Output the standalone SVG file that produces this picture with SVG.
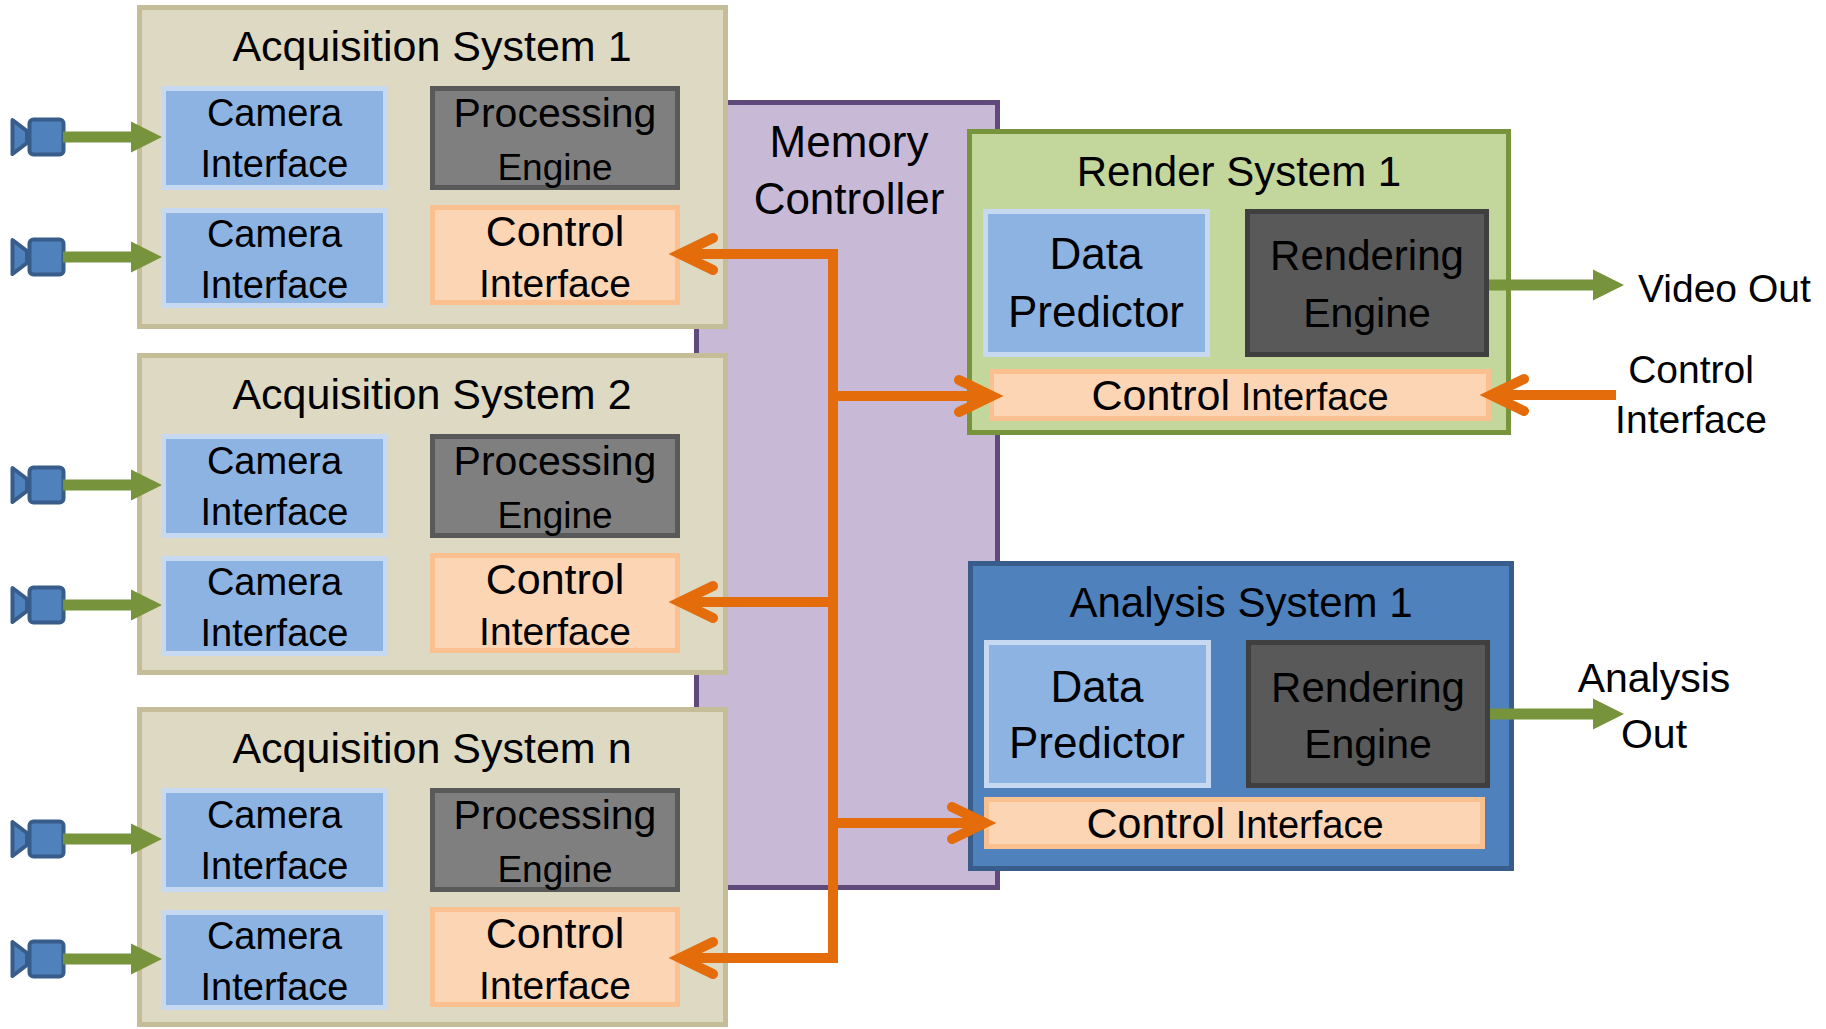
<svg xmlns="http://www.w3.org/2000/svg" xmlns:xlink="http://www.w3.org/1999/xlink" width="1826" height="1029" viewBox="0 0 1826 1029">
<style>
text{font-family:"Liberation Sans",Arial,sans-serif;fill:#000;text-anchor:middle}
.acq{fill:#DDD9C3;stroke:#C4BD97;stroke-width:5}
.cam{fill:#8DB3E2;stroke:#C6D9F1;stroke-width:5}
.proc{fill:#7F7F7F;stroke:#595959;stroke-width:5}
.ctl{fill:#FCD5B5;stroke:#FAC090;stroke-width:5}
.eng{fill:#595959;stroke:#3F3F3F;stroke-width:5}
.mem{fill:#C8B9D7;stroke:#604A7B;stroke-width:5}
.ren{fill:#C3D69B;stroke:#77933C;stroke-width:5}
.ana{fill:#4F81BD;stroke:#385D8A;stroke-width:5}
.or{fill:none;stroke:#E46C0A;stroke-width:10}
.oh{fill:none;stroke:#E46C0A;stroke-width:10;stroke-linecap:round;stroke-linejoin:miter}
.gr{fill:#77933C}
.t43{font-size:43px}.t42{font-size:42px}.t41{font-size:41px}.t39{font-size:39px}.t38{font-size:38px}.t37{font-size:37px}.t44{font-size:44px}
</style>
<defs>
<g id="camicon">
<polygon points="12.5,-17 27,-6 27,6 12.5,17" fill="#4F81BD" stroke="#385D8A" stroke-width="4" stroke-linejoin="round"/>
<rect x="29.5" y="-17.5" width="34" height="35" rx="4" fill="#4F81BD" stroke="#385D8A" stroke-width="4"/>
</g>
<polygon id="garrow" points="63,-5.5 131,-5.5 131,-15.5 162,0 131,15.5 131,5.5 63,5.5"/>
</defs>
<rect width="1826" height="1029" fill="#FFFFFF"/>

<g id="memory-controller">
<rect class="mem" x="696.5" y="102.5" width="301" height="785"/>
<text class="t44" x="849" y="157">Memory</text>
<text class="t44" x="849" y="214">Controller</text>
</g>

<g id="acquisition-system-1" transform="translate(0,5)">
<rect class="acq" x="139.5" y="2.5" width="586" height="319"/>
<text class="t43" x="432" y="56">Acquisition System 1</text>
<rect class="cam" x="163.5" y="83.5" width="222" height="99"/>
<text class="t38" x="274.5" y="121">Camera</text><text class="t38" x="274.5" y="172">Interface</text>
<rect class="proc" x="432.5" y="83.5" width="245" height="99"/>
<text class="t41" x="555" y="122">Processing</text><text class="t37" x="555" y="175">Engine</text>
<rect class="cam" x="163.5" y="205.5" width="222" height="95"/>
<text class="t38" x="274.5" y="242">Camera</text><text class="t38" x="274.5" y="293">Interface</text>
<rect class="ctl" x="432.5" y="202.5" width="245" height="95"/>
<text class="t43" x="555" y="241">Control</text><text class="t39" x="555" y="292">Interface</text>
<use xlink:href="#camicon" href="#camicon" y="132"/>
<use xlink:href="#camicon" href="#camicon" y="252"/>
</g>

<g id="acquisition-system-2" transform="translate(0,353)">
<rect class="acq" x="139.5" y="2.5" width="586" height="317"/>
<text class="t43" x="432" y="56">Acquisition System 2</text>
<rect class="cam" x="163.5" y="83.5" width="222" height="99"/>
<text class="t38" x="274.5" y="121">Camera</text><text class="t38" x="274.5" y="172">Interface</text>
<rect class="proc" x="432.5" y="83.5" width="245" height="99"/>
<text class="t41" x="555" y="122">Processing</text><text class="t37" x="555" y="175">Engine</text>
<rect class="cam" x="163.5" y="205.5" width="222" height="95"/>
<text class="t38" x="274.5" y="242">Camera</text><text class="t38" x="274.5" y="293">Interface</text>
<rect class="ctl" x="432.5" y="202.5" width="245" height="95"/>
<text class="t43" x="555" y="241">Control</text><text class="t39" x="555" y="292">Interface</text>
<use xlink:href="#camicon" href="#camicon" y="132"/>
<use xlink:href="#camicon" href="#camicon" y="252"/>
</g>

<g id="acquisition-system-n" transform="translate(0,707)">
<rect class="acq" x="139.5" y="2.5" width="586" height="315"/>
<text class="t43" x="432" y="56">Acquisition System n</text>
<rect class="cam" x="163.5" y="83.5" width="222" height="99"/>
<text class="t38" x="274.5" y="121">Camera</text><text class="t38" x="274.5" y="172">Interface</text>
<rect class="proc" x="432.5" y="83.5" width="245" height="99"/>
<text class="t41" x="555" y="122">Processing</text><text class="t37" x="555" y="175">Engine</text>
<rect class="cam" x="163.5" y="205.5" width="222" height="95"/>
<text class="t38" x="274.5" y="242">Camera</text><text class="t38" x="274.5" y="293">Interface</text>
<rect class="ctl" x="432.5" y="202.5" width="245" height="95"/>
<text class="t43" x="555" y="241">Control</text><text class="t39" x="555" y="292">Interface</text>
<use xlink:href="#camicon" href="#camicon" y="132"/>
<use xlink:href="#camicon" href="#camicon" y="252"/>
</g>

<g id="render-system-1">
<rect class="ren" x="969.5" y="131.5" width="539" height="301"/>
<text class="t42" x="1239" y="186">Render System 1</text>
<rect class="cam" x="985.5" y="211.5" width="222" height="143"/>
<text class="t44" x="1096" y="269">Data</text><text class="t44" x="1096" y="327">Predictor</text>
<rect class="eng" x="1247.5" y="211.5" width="239" height="143"/>
<text class="t42" x="1367" y="270">Rendering</text><text class="t41" x="1367" y="327">Engine</text>
<rect class="ctl" x="991.5" y="371.5" width="497" height="47"/>
<text x="1240" y="410"><tspan class="t43">Control</tspan><tspan class="t38"> Interface</tspan></text>
</g>

<g id="analysis-system-1">
<rect class="ana" x="970.5" y="563.5" width="541" height="305"/>
<text class="t42" x="1241" y="617">Analysis System 1</text>
<rect class="cam" x="986.5" y="642.5" width="222" height="143"/>
<text class="t44" x="1097" y="702">Data</text><text class="t44" x="1097" y="758">Predictor</text>
<rect class="eng" x="1248.5" y="642.5" width="239" height="143"/>
<text class="t42" x="1368" y="702">Rendering</text><text class="t41" x="1368" y="758">Engine</text>
<rect class="ctl" x="986.5" y="799.5" width="496" height="47"/>
<text x="1235" y="838"><tspan class="t43">Control</tspan><tspan class="t38"> Interface</tspan></text>
</g>

<g id="outputs">
<text class="t39" x="1638" y="302" style="text-anchor:start">Video Out</text>
<text class="t39" x="1691" y="383">Control</text>
<text class="t39" x="1691" y="433">Interface</text>
<text class="t41" x="1654" y="692">Analysis</text>
<text class="t41" x="1654" y="748">Out</text>
</g>

<g id="connectors">
<g class="gr">
<use xlink:href="#garrow" href="#garrow" y="137"/>
<use xlink:href="#garrow" href="#garrow" y="257"/>
<use xlink:href="#garrow" href="#garrow" y="485"/>
<use xlink:href="#garrow" href="#garrow" y="605"/>
<use xlink:href="#garrow" href="#garrow" y="839"/>
<use xlink:href="#garrow" href="#garrow" y="959"/>
<polygon points="1489,279.5 1593,279.5 1593,269.5 1624,285 1593,300.5 1593,290.5 1489,290.5"/>
<polygon points="1490,708.5 1593,708.5 1593,698.5 1624,714 1593,729.5 1593,719.5 1490,719.5"/>
</g>
<path class="or" d="M688,254 H833 V958 H688 M833,602 H688 M833,396 H984 M833,823 H977 M1616,395 H1499"/>
<polyline class="oh" points="713,238 680,254 713,270"/>
<polyline class="oh" points="713,586 680,602 713,618"/>
<polyline class="oh" points="713,942 680,958 713,974"/>
<polyline class="oh" points="959,380 992,396 959,412"/>
<polyline class="oh" points="952,807 985,823 952,839"/>
<polyline class="oh" points="1524,379 1491,395 1524,411"/>
</g>
</svg>
